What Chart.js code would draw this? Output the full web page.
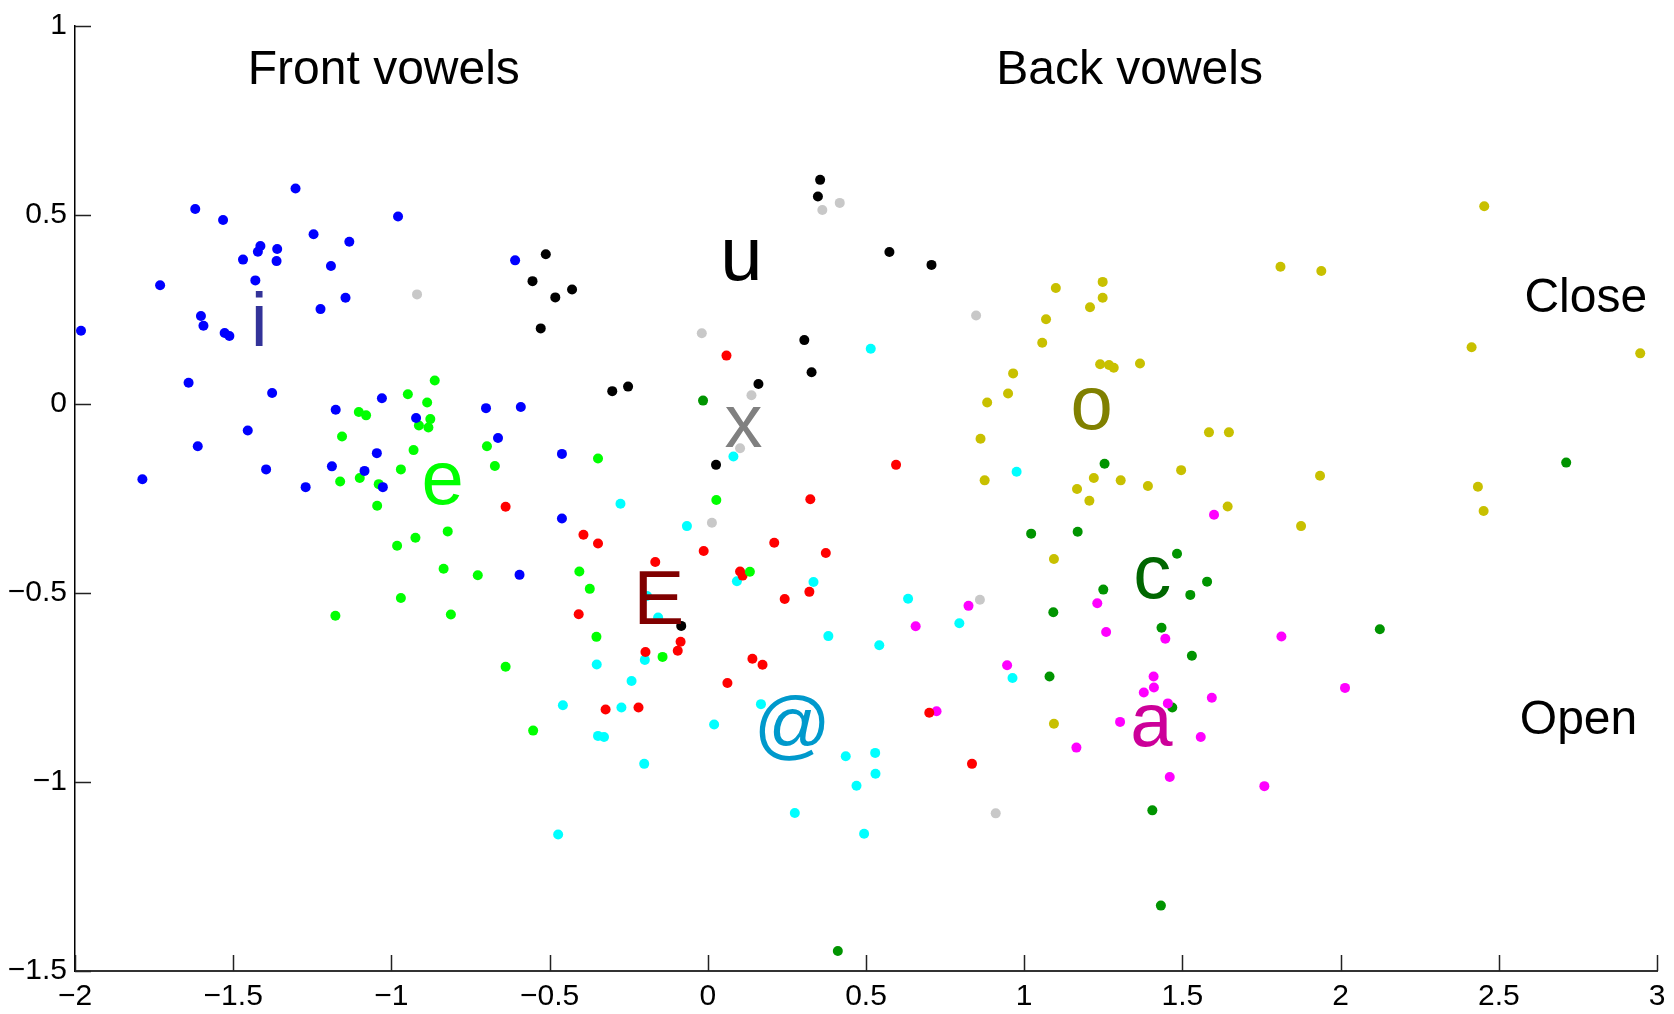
<!DOCTYPE html>
<html>
<head>
<meta charset="utf-8">
<title>Vowels</title>
<script src="https://cdn.jsdelivr.net/npm/chart.js@4.4.1/dist/chart.umd.min.js"></script>
<style>
  html, body { margin: 0; padding: 0; background: #fff; }
  canvas { display: block; }
</style>
</head>
<body>
<canvas id="vowelChart" width="1674" height="1014"></canvas>
<script>
// tick values and labels
const xTicks = [-2, -1.5, -1, -0.5, 0, 0.5, 1, 1.5, 2, 2.5, 3];
const xTickLabels = ['\u22122', '\u22121.5', '\u22121', '\u22120.5', '0', '0.5', '1', '1.5', '2', '2.5', '3'];
const yTicks = [-1.5, -1, -0.5, 0, 0.5, 1];
const yTickLabels = ['\u22121.5', '\u22121', '\u22120.5', '0', '0.5', '1'];

// vowel groups (draw order)
const vowels = ['i', 'e', 'E', '@', 'u', 'x', 'o', 'a', 'c'];

// points per vowel
const iX = [-1.981, -1.731, -1.620, -1.532, -1.303, -0.979, -1.246, -1.133, -1.361, -1.414, -1.422, -1.469, -1.363, -1.191, -1.430, -1.145, -1.224, -1.602, -1.594, -0.609,
            -1.527, -1.512, -1.641, -1.377, -1.176, -1.030, -0.922, -0.701, -0.591, -1.454, -1.612, -0.663, -1.046, -1.188, -1.085, -1.396, -1.787, -1.271, -1.027, -0.595,
            -0.461, -0.461];
const iY = [0.194, 0.314, 0.516, 0.487, 0.570, 0.496, 0.449, 0.429, 0.410, 0.418, 0.403, 0.382, 0.378, 0.365, 0.327, 0.281, 0.251, 0.233, 0.207, 0.380,
            0.188, 0.180, 0.056, 0.029, -0.015, 0.015, -0.037, -0.011, -0.008, -0.070, -0.112, -0.090, -0.130, -0.165, -0.177, -0.173, -0.199, -0.220, -0.220, -0.452,
            -0.132, -0.303];

const eX = [-0.863, -0.948, -0.887, -1.103, -1.080, -0.877, -0.913, -0.883, -1.156, -0.930, -0.698, -0.673, -0.970, -1.162, -1.100, -1.040, -1.045, -0.822, -0.924, -0.982,
            -0.835, -0.727, -0.970, -1.177, -0.812, -0.347, 0.027, -0.406, -0.373, 0.133, -0.352, -0.639, -0.552, -0.143];
const eY = [0.062, 0.026, 0.004, -0.021, -0.030, -0.040, -0.057, -0.062, -0.086, -0.122, -0.112, -0.164, -0.173, -0.205, -0.196, -0.212, -0.269, -0.337, -0.354, -0.375,
            -0.436, -0.453, -0.513, -0.560, -0.557, -0.144, -0.254, -0.443, -0.489, -0.444, -0.616, -0.695, -0.864, -0.669];

const bigEX = [-0.639, 0.059, 0.595, 0.324, -0.393, -0.347, 0.210, -0.013, 0.373, -0.166, 0.102, 0.110, 0.321, 0.243, -0.408, -0.086,
               -0.095, -0.197, 0.141, 0.173, 0.062, -0.323, -0.219, 0.700, 0.835];
const bigEY = [-0.272, 0.128, -0.161, -0.252, -0.346, -0.369, -0.367, -0.389, -0.394, -0.418, -0.443, -0.454, -0.497, -0.516, -0.556, -0.629,
               -0.653, -0.656, -0.674, -0.690, -0.738, -0.808, -0.803, -0.817, -0.952];

const atX = [0.515, 0.081, -0.276, -0.066, 0.976, 0.092, 0.334, -0.192, -0.157, 0.633, 0.795, 0.381, 0.542,
             -0.199, -0.351, -0.241, -0.458, -0.273, 0.168, 0.020, -0.347, -0.328, -0.201, 0.436, 0.529, 0.530, 0.470, 0.275, 0.494, -0.473, 0.963];
const atY = [0.146, -0.139, -0.264, -0.323, -0.179, -0.469, -0.471, -0.508, -0.565, -0.515, -0.580, -0.614, -0.638,
             -0.677, -0.689, -0.733, -0.797, -0.803, -0.794, -0.848, -0.878, -0.881, -0.952, -0.932, -0.923, -0.978, -1.010, -1.082, -1.137, -1.139, -0.725];

const uX = [-0.512, -0.554, -0.528, -0.482, -0.429, 0.355, 0.348, 0.574, 0.707, 0.305, 0.328, -0.302, -0.252, 0.160, 0.026, -0.084];
const uY = [0.396, 0.325, 0.200, 0.282, 0.303, 0.593, 0.549, 0.402, 0.368, 0.169, 0.084, 0.034, 0.046, 0.053, -0.161, -0.587];

const xX = [-0.919, 0.417, 0.362, 0.848, -0.019, 0.138, 0.102, 0.013, 0.860, 0.910];
const xY = [0.290, 0.532, 0.513, 0.234, 0.187, 0.023, -0.117, -0.314, -0.518, -1.083];

const oX = [1.100, 1.069, 1.208, 1.248, 1.248, 1.810, 1.939, 2.454, 1.057, 0.965, 0.949, 0.883, 0.862, 0.875, 1.167, 1.094,
            1.240, 1.268, 1.283, 1.366, 2.414, 2.947, 1.584, 1.647, 1.220, 1.305, 1.391, 1.496, 1.935, 2.434, 2.452, 1.206, 1.643, 1.875, 1.094];
const oY = [0.307, 0.224, 0.256, 0.323, 0.281, 0.363, 0.352, 0.523, 0.162, 0.081, 0.028, 0.004, -0.092, -0.202, -0.225, -0.410,
            0.105, 0.103, 0.096, 0.107, 0.150, 0.134, -0.075, -0.075, -0.196, -0.202, -0.217, -0.175, -0.190, -0.219, -0.283, -0.256, -0.271, -0.323, -0.846];

const aX = [0.824, 0.657, 1.600, 1.231, 1.259, 1.446, 1.813, 0.946, 0.723, 1.165, 1.409, 1.410, 1.378, 2.014, 1.593, 1.454, 1.303, 1.558, 1.460, 1.759];
const aY = [-0.534, -0.588, -0.293, -0.527, -0.603, -0.621, -0.615, -0.691, -0.813, -0.909, -0.721, -0.750, -0.763, -0.751, -0.777, -0.792, -0.841, -0.881, -0.987, -1.011];

const cX = [-0.015, 1.022, 1.169, 1.092, 1.254, 2.713, 1.483, 1.250, 1.578, 1.525, 1.434, 2.124, 0.411, 1.080, 1.530, 1.468, 1.405, 1.432];
const cY = [0.009, -0.343, -0.338, -0.551, -0.158, -0.155, -0.396, -0.491, -0.470, -0.505, -0.592, -0.596, -1.447, -0.721, -0.666, -0.803, -1.075, -1.327];

// big vowel symbols and their positions (baseline)
const symbolText = ['i', 'e', 'E', '@', 'u', 'x', 'o', 'c', 'a'];
const symbolX = [-1.418, -0.838, -0.155, 0.267, 0.106, 0.113, 1.213, 1.405, 1.402];
const symbolY = [0.154, -0.265, -0.583, -0.915, 0.328, -0.115, -0.065, -0.514, -0.904];

// region labels
const noteText = ['Front vowels', 'Back vowels', 'Close', 'Open'];
const noteX = [-1.024, 1.333, 2.775, 2.752];
const noteY = [0.847, 0.847, 0.244, -0.873];

// styles
const pointColors = {i: '#0000ff', e: '#00ff00', E: '#ff0000', '@': '#00ffff', u: '#000000', x: '#c8c8c8', o: '#c8c000', a: '#ff00ff', c: '#009400'};
const symbolColors = {i: '#333399', e: '#00ff00', E: '#800000', '@': '#0099cc', u: '#000000', x: '#808080', o: '#808000', c: '#006600', a: '#cc0099'};
const FONT = '"Liberation Sans", Arial, Helvetica, sans-serif';

const groups = {
    i: [iX, iY], e: [eX, eY], E: [bigEX, bigEY], '@': [atX, atY], u: [uX, uY],
    x: [xX, xY], o: [oX, oY], a: [aX, aY], c: [cX, cY]
};

const datasets = vowels.map(function(v) {
    const xs = groups[v][0], ys = groups[v][1];
    return {
        label: v,
        data: xs.map(function(px, k) { return {x: px, y: ys[k]}; }),
        backgroundColor: pointColors[v],
        borderColor: pointColors[v],
        borderWidth: 0,
        pointRadius: 5,
        pointHoverRadius: 5
    };
});

// texts on top of the dots, and inward ticks like the original
const vowelText = {
    id: 'vowelText',
    afterDatasetsDraw(chart) {
        const ctx = chart.ctx, sx = chart.scales.x, sy = chart.scales.y;
        ctx.save();
        ctx.textAlign = 'center';
        ctx.textBaseline = 'alphabetic';
        ctx.font = '76px ' + FONT;
        symbolText.forEach(function(t, k) {
            ctx.fillStyle = symbolColors[t];
            ctx.fillText(t, sx.getPixelForValue(symbolX[k]), sy.getPixelForValue(symbolY[k]));
        });
        ctx.font = '48px ' + FONT;
        ctx.fillStyle = '#000';
        noteText.forEach(function(t, k) {
            ctx.fillText(t, sx.getPixelForValue(noteX[k]), sy.getPixelForValue(noteY[k]));
        });
        ctx.restore();
    },
    afterDraw(chart) {
        const ctx = chart.ctx, sx = chart.scales.x, sy = chart.scales.y;
        const area = chart.chartArea;
        ctx.save();
        ctx.lineWidth = 1.5;
        ctx.strokeStyle = '#222';
        ctx.beginPath();
        xTicks.forEach(function(v) {
            const px = Math.round(sx.getPixelForValue(v)) + 0.5;
            ctx.moveTo(px, area.bottom);
            ctx.lineTo(px, area.bottom - 16);
        });
        yTicks.forEach(function(v) {
            const py = Math.round(sy.getPixelForValue(v)) + 0.5;
            ctx.moveTo(area.left, py);
            ctx.lineTo(area.left + 16, py);
        });
        ctx.stroke();
        ctx.restore();
    }
};

const chart = new Chart(document.getElementById('vowelChart'), {
    type: 'scatter',
    data: { datasets: datasets },
    options: {
        responsive: false,
        animation: false,
        devicePixelRatio: 1,
        layout: { padding: { top: 23, right: 17, left: 0, bottom: 0 } },
        plugins: { legend: { display: false }, tooltip: { enabled: false } },
        scales: {
            x: {
                type: 'linear',
                min: -2,
                max: 3,
                afterFit: function(s) { s.height = 43; },
                afterBuildTicks: function(s) { s.ticks = xTicks.map(function(v) { return {value: v}; }); },
                grid: { display: false, drawTicks: false },
                border: { display: true, color: '#333', width: 2 },
                ticks: {
                    padding: 8,
                    maxRotation: 0,
                    autoSkip: false,
                    color: '#000',
                    font: { family: FONT, size: 30 },
                    callback: function(v, k) { return xTickLabels[k]; }
                }
            },
            y: {
                type: 'linear',
                min: -1.5,
                max: 1,
                afterFit: function(s) { s.width = 75; },
                afterBuildTicks: function(s) { s.ticks = yTicks.map(function(v) { return {value: v}; }); },
                grid: { display: false, drawTicks: false },
                border: { display: true, color: '#000', width: 1.5 },
                ticks: {
                    padding: 8,
                    autoSkip: false,
                    color: '#000',
                    font: { family: FONT, size: 30 },
                    callback: function(v, k) { return yTickLabels[k]; }
                }
            }
        }
    },
    plugins: [vowelText]
});
</script>
</body>
</html>
